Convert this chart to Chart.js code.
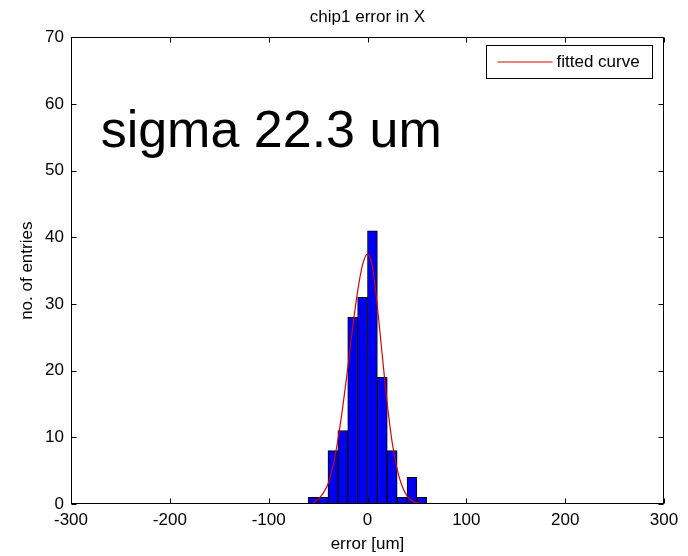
<!DOCTYPE html>
<html>
<head>
<meta charset="utf-8">
<title>chip1 error in X</title>
<script src="https://cdn.jsdelivr.net/npm/chart.js@4.4.1/dist/chart.umd.min.js"></script>
<style>
  html, body { margin: 0; padding: 0; background: #fff; }
  #chart { display: block; }
</style>
</head>
<body>
<canvas id="chart" width="688" height="556"></canvas>
<script>
// histogram bins (centre of each 10 um bin) and counts
const binCenters = [-55, -45, -35, -25, -15, -5, 5, 15, 25, 35, 45, 55];
const binCounts = [1, 1, 8, 11, 28, 31, 41, 19, 8, 1, 4, 1];

// fitted curve
const curveX = [-55, -50, -45, -40, -35, -30, -25, -20, -15, -10, -5, 0, 5, 10, 15, 20, 25, 30, 35, 40, 45, 50, 55];
const curveY = [0.2, 0.7, 1.6, 3.0, 5.6, 9.6, 14.6, 20.4, 26.5, 31.9, 35.9, 37.5, 35.6, 29.6, 22.2, 15.0, 9.2, 5.2, 2.7, 1.2, 0.5, 0.2, 0.05];

const xTicks = [-300, -200, -100, 0, 100, 200, 300];
const yTicks = [0, 10, 20, 30, 40, 50, 60, 70];

const note = "sigma 22.3 um";
const FONT = "'Liberation Sans', Arial, Helvetica, sans-serif";

// MATLAB style box with inward ticks on every side
const frame = {
  id: "frame",
  afterDatasetsDraw(chart) {
    const { ctx, chartArea: a, scales: { x, y } } = chart;
    const L = Math.round(a.left) + 0.5, R = Math.round(a.right) - 0.5;
    const T = Math.round(a.top) + 0.5, B = Math.round(a.bottom) - 0.5;
    const len = 5;
    ctx.save();
    ctx.strokeStyle = "#000";
    ctx.lineWidth = 1;
    ctx.strokeRect(L, T, R - L, B - T);
    ctx.beginPath();
    xTicks.forEach(v => {
      const px = Math.round(x.getPixelForValue(v)) + 0.5;
      ctx.moveTo(px, B); ctx.lineTo(px, B - len);
      ctx.moveTo(px, T); ctx.lineTo(px, T + len);
    });
    yTicks.forEach(v => {
      const py = Math.round(y.getPixelForValue(v)) + 0.5;
      ctx.moveTo(L, py); ctx.lineTo(L + len, py);
      ctx.moveTo(R, py); ctx.lineTo(R - len, py);
    });
    ctx.stroke();
    ctx.restore();
  }
};

// big annotation text + boxed legend top right
const extras = {
  id: "extras",
  afterDraw(chart) {
    const { ctx, chartArea: a, scales: { x, y } } = chart;
    ctx.save();
    ctx.fillStyle = "#000";
    ctx.font = "52px " + FONT;
    ctx.textBaseline = "alphabetic";
    ctx.textAlign = "left";
    ctx.fillText(note, x.getPixelForValue(-270), y.getPixelForValue(53.6));

    const ds = chart.data.datasets[0];
    const bw = 166, bh = 33;
    const bx = Math.round(a.right) - 12 - bw + 0.5;
    const by = Math.round(a.top) + 8 + 0.5;
    ctx.fillStyle = "#fff";
    ctx.fillRect(bx, by, bw, bh);
    ctx.strokeStyle = "#000";
    ctx.lineWidth = 1;
    ctx.strokeRect(bx, by, bw, bh);
    const my = by + bh / 2;
    ctx.strokeStyle = ds.borderColor;
    ctx.beginPath();
    ctx.moveTo(bx + 11, my);
    ctx.lineTo(bx + 66, my);
    ctx.stroke();
    ctx.fillStyle = "#000";
    ctx.font = "17px " + FONT;
    ctx.textBaseline = "middle";
    ctx.fillText(ds.label, bx + 70, my);
    ctx.restore();
  }
};

new Chart(document.getElementById("chart"), {
  type: "bar",
  data: {
    datasets: [
      {
        type: "line",
        label: "fitted curve",
        data: curveX.map((v, i) => ({ x: v, y: curveY[i] })),
        borderColor: "#d80000",
        borderWidth: 1.2,
        pointRadius: 0,
        cubicInterpolationMode: "monotone",
        fill: false,
        order: 0
      },
      {
        label: "entries",
        data: binCenters.map((v, i) => ({ x: v, y: binCounts[i] })),
        backgroundColor: "#0000f0",
        borderColor: "#000",
        borderWidth: 1,
        borderSkipped: false,
        barPercentage: 1,
        categoryPercentage: 1,
        order: 1
      }
    ]
  },
  options: {
    responsive: false,
    animation: false,
    layout: { padding: { left: 0, right: 24, top: 0, bottom: 0 } },
    plugins: {
      legend: { display: false },
      tooltip: { enabled: false },
      title: {
        display: true,
        fullSize: false,
        text: "chip1 error in X",
        color: "#000",
        font: { family: FONT, size: 17, weight: "normal" },
        padding: { top: 7, bottom: 10 }
      }
    },
    scales: {
      x: {
        type: "linear",
        min: -300,
        max: 300,
        offset: false,
        afterBuildTicks: s => { s.ticks = xTicks.map(v => ({ value: v })); },
        afterFit: s => { s.height = 52; },
        grid: { display: false, drawTicks: false },
        border: { display: false },
        ticks: { color: "#000", font: { family: FONT, size: 17 }, padding: 6, maxRotation: 0 },
        title: {
          display: true,
          text: "error [um]",
          color: "#000",
          font: { family: FONT, size: 17 },
          padding: { top: 0, bottom: 1 }
        }
      },
      y: {
        min: 0,
        max: 70,
        afterBuildTicks: s => { s.ticks = yTicks.map(v => ({ value: v })); },
        afterFit: s => { s.width = 71; },
        grid: { display: false, drawTicks: false },
        border: { display: false },
        ticks: { color: "#000", font: { family: FONT, size: 17 }, padding: 7 },
        title: {
          display: true,
          text: "no. of entries",
          color: "#000",
          font: { family: FONT, size: 17 },
          padding: { top: 17, bottom: 0 }
        }
      }
    }
  },
  plugins: [frame, extras]
});
</script>
</body>
</html>
